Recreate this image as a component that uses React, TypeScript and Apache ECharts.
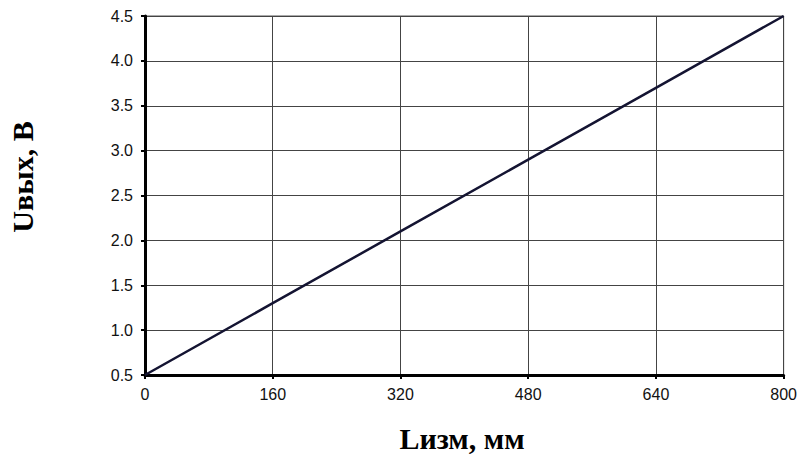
import React, { useEffect, useRef } from "react";
import * as echarts from "echarts";

const xValues = [0, 160, 320, 480, 640, 800];
const yValues = [0.5, 1.3, 2.1, 2.9, 3.7, 4.5];
const xTitle = "Lизм, мм";
const yTitle = "Uвых, В";

export default function App() {
  const ref = useRef<HTMLDivElement>(null);
  useEffect(() => {
    if (!ref.current) return;
    const chart = echarts.init(ref.current, undefined, { renderer: "svg" });
    chart.setOption({
      animation: false,
      backgroundColor: "#ffffff",
      grid: { left: 145, right: 15, top: 16, bottom: 79, show: true, borderColor: "#555", borderWidth: 1 },
      xAxis: {
        type: "value",
        min: 0,
        max: 800,
        interval: 160,
        axisLine: { show: true, onZero: false, lineStyle: { color: "#000", width: 3 } },
        axisTick: { show: true, length: 4, lineStyle: { color: "#000", width: 2 } },
        axisLabel: { color: "#111", fontFamily: "Liberation Sans, Arial", fontSize: 16, margin: 11 },
        splitLine: { show: true, lineStyle: { color: "#444", width: 1 } },
      },
      yAxis: {
        type: "value",
        min: 0.5,
        max: 4.5,
        interval: 0.5,
        axisLine: { show: true, onZero: false, lineStyle: { color: "#000", width: 3 } },
        axisTick: { show: true, length: 4, lineStyle: { color: "#000", width: 2 } },
        axisLabel: {
          color: "#111",
          fontFamily: "Liberation Sans, Arial",
          fontSize: 16,
          margin: 12,
          formatter: (v: number) => v.toFixed(1),
        },
        splitLine: { show: true, lineStyle: { color: "#444", width: 1 } },
      },
      series: [
        {
          type: "line",
          data: xValues.map((x, i) => [x, yValues[i]]),
          showSymbol: false,
          lineStyle: { color: "#141432", width: 2.5 },
        },
      ],
      graphic: [
        {
          type: "text",
          x: 462,
          y: 438,
          style: {
            text: xTitle,
            font: "bold 30px 'Liberation Serif', 'Times New Roman', serif",
            fill: "#000",
            align: "center",
            verticalAlign: "middle",
          },
        },
        {
          type: "text",
          x: 22,
          y: 177,
          rotation: Math.PI / 2,
          style: {
            text: yTitle,
            font: "bold 30px 'Liberation Serif', 'Times New Roman', serif",
            fill: "#000",
            align: "center",
            verticalAlign: "middle",
          },
        },
      ],
    });
    return () => chart.dispose();
  }, []);
  return <div ref={ref} style={{ width: 800, height: 454, position: "absolute", left: 0, top: 0 }} />;
}
